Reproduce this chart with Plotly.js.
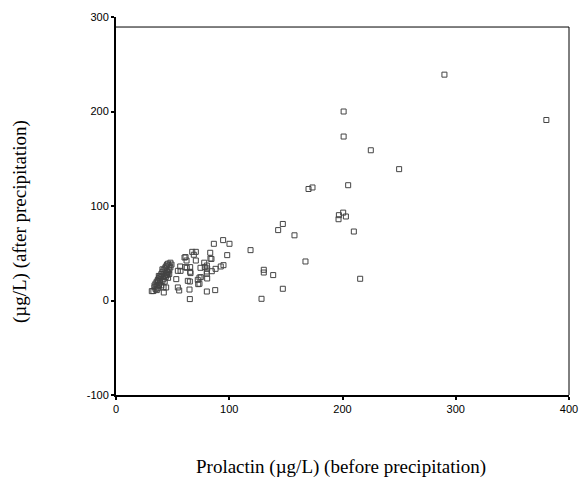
<!DOCTYPE html>
<html>
<head>
<meta charset="utf-8">
<script src="https://cdn.plot.ly/plotly-3.0.1.min.js"></script>
<style>html,body{margin:0;padding:0;background:#fff;}#chart{width:580px;height:489px;}</style>
</head>
<body>
<div id="chart"></div>
<script>
// Prolactin before precipitation (x) and after precipitation (y), µg/L
const beforeOuter = [290,380,201,201,225,250,170,173.5,205,196.8,200.6,203,196.5,210,147.3,143.2,157.6,118.8,167.3,130.5,130.5,138.8,215.6,147.3,128.5];
const afterOuter  = [239,191,200,173.5,159,139,118,119.6,122,90.3,93,88.9,86,73,81,74.5,69,53.3,41.3,32.5,29.6,26.9,23,12.4,1.8];

const beforeMid = [86.4,94.6,100.2,98.2,83.2,83.4,84.3,77.9,80.2,80.5,80.2,80.2,87.9,92.5,94.9,84.6,74.9,80.5,73.7,80.2,87.6,
  67.3,70.5,68.7,61.4,62.3,70.5,78.4,56.7,65.5,65.5,65.8,61.1,62.5,74.6,73.7,53.2,65.2,72.6,55.8,65.2,42.2,31.6,37.8,54.6,57,60.5,63.4,44.3,54.6,64.9,72.2];
const afterMid  = [60,63.9,60,48,50.5,44.4,44,40,37,33.9,30.7,28.3,33.5,36,37.4,31,24.7,23.3,17.7,9.5,11,
  51.5,51.5,48.4,45.9,42.3,42.3,35.3,36,35.3,30.4,29,35.3,34.6,34.6,24.3,22.6,20.1,17.3,10.6,1.5,8.5,9.9,26,31.4,31.4,45.5,20.8,13.8,13.8,11.6,21.9];

const beforeCluster = [33,34,35,35,36,36,37,37,38,38,39,39,40,40,41,41,42,42,43,43,44,44,45,45,46,46,47,47,48,48,49,36,38,40,42,44,46,34,37,41,43,45,47,39];
const afterCluster  = [10,14,12,18,15,20,13,22,17,24,19,26,16,28,21,30,23,32,20,34,25,36,27,38,30,39,32,37,35,40,38,11,16,25,14,29,24,16,19,33,26,31,28,22];

const xTicks = [0,100,200,300,400];
const yTicks = [-100,0,100,200,300];
const xTitle = 'Prolactin (µg/L) (before precipitation)';
const yTitle = '(µg/L) (after precipitation)';

const xs = beforeOuter.concat(beforeMid, beforeCluster);
const ys = afterOuter.concat(afterMid, afterCluster);

const trace = {
  x: xs, y: ys, type: 'scatter', mode: 'markers',
  marker: {symbol: 'square-open', size: 5, color: '#444', line: {width: 1, color: '#444'}},
  hoverinfo: 'none'
};

const titleFont = {family: 'Liberation Serif, Times New Roman, serif', size: 19, color: '#000'};

const layout = {
  width: 580, height: 489,
  margin: {l: 116, r: 11, t: 17, b: 94},
  paper_bgcolor: '#fff', plot_bgcolor: '#fff',
  showlegend: false,
  font: {family: 'Liberation Sans, Arial, sans-serif', size: 11, color: '#000'},
  xaxis: {
    range: [0, 400], tickvals: xTicks, ticktext: xTicks.map(String),
    showgrid: false, zeroline: false, showline: true, linecolor: '#000', linewidth: 2,
    ticks: 'outside', ticklen: 3, tickwidth: 2, tickcolor: '#000',
    tickfont: {family: 'Liberation Sans, Arial, sans-serif', size: 11}
  },
  yaxis: {
    range: [-100, 300], tickvals: yTicks, ticktext: yTicks.map(String),
    showgrid: false, zeroline: false, showline: true, linecolor: '#000', linewidth: 2,
    ticks: 'outside', ticklen: 3, tickwidth: 2, tickcolor: '#000',
    tickfont: {family: 'Liberation Sans, Arial, sans-serif', size: 11}
  },
  annotations: [
    {text: xTitle, xref: 'paper', yref: 'paper', x: 0.497, y: -0.19, xanchor: 'center', yanchor: 'middle', showarrow: false, font: titleFont},
    {text: yTitle, xref: 'paper', yref: 'paper', x: -0.212, y: 0.46, xanchor: 'center', yanchor: 'middle', textangle: -90, showarrow: false, font: titleFont}
  ],
  shapes: [
    {type: 'line', xref: 'paper', yref: 'paper', x0: 0, x1: 1, y0: 0.9735, y1: 0.9735, line: {color: '#000', width: 1}},
    {type: 'line', xref: 'paper', yref: 'paper', x0: 1, x1: 1, y0: 0, y1: 0.9735, line: {color: '#000', width: 1}}
  ]
};

Plotly.newPlot('chart', [trace], layout, {displayModeBar: false, staticPlot: true});
</script>
</body>
</html>
